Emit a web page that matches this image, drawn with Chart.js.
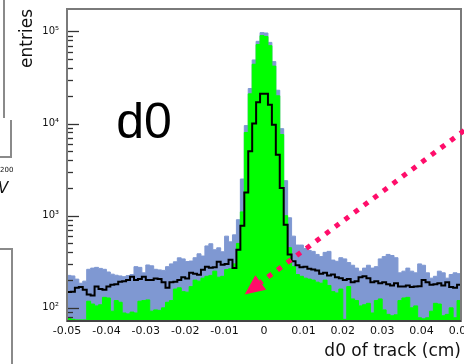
<!DOCTYPE html>
<html>
<head>
<meta charset="utf-8">
<script src="https://cdn.jsdelivr.net/npm/chart.js@4/dist/chart.umd.min.js"></script>
<style>
  html, body { margin: 0; padding: 0; background: #fff; }
  canvas { display: block; }
</style>
</head>
<body>
<canvas id="d0-hist" width="464" height="364"></canvas>
<script>
// d0 of track, 100 bins of 0.001 cm from -0.05 to 0.05
const xMin = -0.05;
const binWidth = 0.001;

const allTracks = [
  225, 222, 205, 185, 195, 262, 270, 275, 268, 262,
  245, 232, 226, 222, 218, 224, 230, 280, 275, 240,
  292, 286, 262, 258, 255, 280, 300, 316, 349, 340,
  318, 322, 350, 386, 365, 470, 496, 427, 448, 406,
  600, 520, 620, 905, 2500, 9500, 24000, 49000, 78000, 97000,
  96000, 76000, 47000, 23000, 8800, 2400, 950, 600, 480, 480,
  440, 420, 410, 380, 360, 400, 410, 330, 320, 350,
  340, 310, 290, 270, 250, 270, 290, 270, 280, 340,
  360, 380, 370, 350, 240, 250, 270, 250, 240, 300,
  290, 240, 210, 220, 250, 240, 210, 230, 240, 235
];

const matchedTracks = [
  78, 75, 74, 74, 74, 118, 110, 105, 108, 130,
  128, 92, 120, 115, 88, 86, 90, 88, 118, 120,
  122, 92, 95, 94, 100, 115, 120, 160, 165, 150,
  148, 170, 200, 195, 210, 220, 225, 250, 215, 220,
  260, 265, 300, 500, 1100, 8000, 21000, 44000, 72000, 90000,
  88000, 70000, 42000, 20000, 7600, 1000, 450, 280, 230, 220,
  210, 205, 200, 190, 185, 200, 175, 150, 145, 160,
  75, 170, 125, 120, 105, 108, 112, 88, 120, 125,
  95, 85, 82, 84, 120, 128, 130, 100, 105, 78,
  76, 78, 92, 112, 110, 82, 85, 100, 78, 120
];

const selectedTracks = [
  149, 150, 165, 168, 157, 140, 136, 170, 160, 157,
  170, 178, 180, 192, 195, 200, 217, 200, 205, 217,
  200, 200, 208, 205, 190, 165, 190, 192, 200, 215,
  208, 240, 235, 228, 259, 280, 272, 275, 316, 293,
  300, 332, 270, 427, 780, 1780, 5000, 10000, 17000, 21000,
  21000, 16000, 9700, 4600, 2000, 800, 380, 320, 290, 275,
  280, 265, 260, 255, 235, 240, 225, 230, 215, 210,
  200, 205, 190, 195, 215, 220, 210, 190, 195, 185,
  190, 180, 175, 185, 170, 170, 175, 168, 170, 172,
  200, 190, 178, 180, 185, 175, 190, 168, 165, 178
];

const xTickValues = [-0.05, -0.04, -0.03, -0.02, -0.01, 0, 0.01, 0.02, 0.03, 0.04, 0.05];
const yTickValues = [1e2, 1e3, 1e4, 1e5];
const superscripts = { 2: '\u00b2', 3: '\u00b3', 4: '\u2074', 5: '\u2075' };

// one point per left bin edge, plus the closing right edge
function histSteps(counts) {
  const pts = counts.map((c, i) => ({ x: xMin + i * binWidth, y: c }));
  pts.push({ x: xMin + counts.length * binWidth, y: counts[counts.length - 1] });
  return pts;
}

const frame = {
  id: 'frame',
  afterDatasetsDraw(chart) {
    const { ctx, chartArea: a, scales: { y } } = chart;
    ctx.save();
    ctx.strokeStyle = '#333';
    ctx.lineWidth = 1.3;
    for (let e = 1; e <= 5; e++) {
      for (let m = 1; m <= 9; m++) {
        const v = m * Math.pow(10, e);
        if (v < y.min || v > y.max) continue;
        const py = Math.round(y.getPixelForValue(v)) + 0.5;
        ctx.beginPath();
        ctx.moveTo(a.left, py);
        ctx.lineTo(a.left + (m === 1 ? 12 : 6), py);
        ctx.stroke();
      }
    }
    ctx.strokeStyle = '#7a7a7a';
    ctx.lineWidth = 2;
    ctx.strokeRect(a.left, a.top, a.right - a.left, a.bottom - a.top);
    ctx.strokeStyle = '#444';
    ctx.beginPath();
    ctx.moveTo(a.left, a.bottom);
    ctx.lineTo(a.right, a.bottom);
    ctx.stroke();
    ctx.restore();
  }
};

const notes = {
  id: 'notes',
  afterDraw(chart) {
    const { ctx, scales: { x, y } } = chart;
    ctx.save();

    // variable name inside the frame
    ctx.fillStyle = '#000';
    ctx.font = '50px "Liberation Sans", Arial, sans-serif';
    ctx.textBaseline = 'alphabetic';
    ctx.fillText('d0', x.getPixelForValue(-0.0375), y.getPixelForValue(7000));

    // dotted pointer down to the tail
    const x0 = x.getPixelForValue(0.0508), y0 = y.getPixelForValue(8400);
    const x1 = x.getPixelForValue(-0.0049), y1 = y.getPixelForValue(140);
    const len = Math.hypot(x1 - x0, y1 - y0);
    const ux = (x1 - x0) / len, uy = (y1 - y0) / len;
    const head = 20, half = 9;
    ctx.strokeStyle = '#ff0d6a';
    ctx.fillStyle = '#ff0d6a';
    ctx.lineWidth = 5;
    ctx.setLineDash([5, 7]);
    ctx.beginPath();
    ctx.moveTo(x0, y0);
    ctx.lineTo(x1 - ux * head, y1 - uy * head);
    ctx.stroke();
    ctx.setLineDash([]);
    const bx = x1 - ux * head, by = y1 - uy * head;
    ctx.beginPath();
    ctx.moveTo(x1, y1);
    ctx.lineTo(bx - uy * half, by + ux * half);
    ctx.lineTo(bx + uy * half, by - ux * half);
    ctx.closePath();
    ctx.fill();

    // edge of the neighbouring pad
    ctx.strokeStyle = '#8a8a8a';
    ctx.lineWidth = 2;
    ctx.beginPath();
    ctx.moveTo(4, 0); ctx.lineTo(4, 118);
    ctx.moveTo(11, 120); ctx.lineTo(11, 157); ctx.lineTo(0, 157);
    ctx.moveTo(0, 249); ctx.lineTo(12, 249); ctx.lineTo(12, 364);
    ctx.stroke();
    ctx.fillStyle = '#111';
    ctx.font = '7px "DejaVu Sans", sans-serif';
    ctx.fillText('200', 0, 172);
    ctx.font = 'italic 15px "DejaVu Sans", sans-serif';
    ctx.fillText('V', -2, 193);
    ctx.restore();
  }
};

new Chart(document.getElementById('d0-hist'), {
  type: 'line',
  data: {
    datasets: [
      {
        data: histSteps(selectedTracks),
        stepped: true,
        borderColor: '#000',
        borderWidth: 2,
        pointRadius: 0,
        fill: false
      },
      {
        data: histSteps(matchedTracks),
        stepped: true,
        borderColor: '#00ff00',
        backgroundColor: '#00ff00',
        borderWidth: 1,
        pointRadius: 0,
        fill: 'start'
      },
      {
        data: histSteps(allTracks),
        stepped: true,
        borderColor: '#7f98d2',
        backgroundColor: '#7f98d2',
        borderWidth: 1,
        pointRadius: 0,
        fill: 'start'
      }
    ]
  },
  options: {
    responsive: false,
    animation: false,
    layout: { padding: { top: 9, right: 3, left: 0, bottom: 0 } },
    plugins: { legend: { display: false }, tooltip: { enabled: false } },
    scales: {
      x: {
        type: 'linear',
        min: -0.05,
        max: 0.05,
        grid: { display: false, drawTicks: false },
        border: { display: false },
        afterBuildTicks: s => { s.ticks = xTickValues.map(value => ({ value })); },
        afterFit: s => { s.height = 43; s.paddingLeft = 0; s.paddingRight = 0; },
        ticks: {
          autoSkip: false,
          maxRotation: 0,
          padding: 4,
          color: '#111',
          font: { family: 'DejaVu Sans', size: 11 },
          callback: v => {
            const r = Math.round(v * 100) / 100;
            return r === 0 ? '0' : r.toFixed(2);
          }
        },
        title: {
          display: true,
          text: 'd0 of track (cm)',
          align: 'end',
          color: '#111',
          font: { family: 'DejaVu Sans', size: 17 },
          padding: { top: 0, bottom: 2.4 }
        }
      },
      y: {
        type: 'logarithmic',
        min: 72,
        max: 175000,
        grid: { display: false, drawTicks: false },
        border: { display: false },
        afterBuildTicks: s => { s.ticks = yTickValues.map(value => ({ value })); },
        afterFit: s => { s.width = 67; s.paddingTop = 0; s.paddingBottom = 0; },
        ticks: {
          autoSkip: false,
          padding: 8,
          color: '#111',
          font: { family: 'DejaVu Sans', size: 10 },
          callback: v => '10' + superscripts[Math.round(Math.log10(v))]
        },
        title: {
          display: true,
          text: 'entries',
          align: 'end',
          color: '#111',
          font: { family: 'DejaVu Sans', size: 17 },
          padding: { top: 17, bottom: 0 }
        }
      }
    }
  },
  plugins: [frame, notes]
});
</script>
</body>
</html>
